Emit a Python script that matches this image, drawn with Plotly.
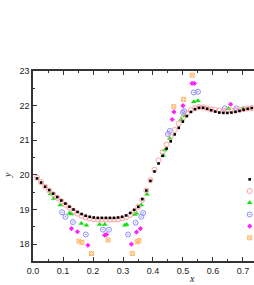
import plotly.graph_objects as go

# ---- data ----
grid_x = [0.0135, 0.0270, 0.0405, 0.0540, 0.0675, 0.0810, 0.0945, 0.1080, 0.1215, 0.1350,
          0.1485, 0.1620, 0.1755, 0.1890, 0.2025, 0.2160, 0.2295, 0.2430, 0.2565, 0.2700,
          0.2835, 0.2970, 0.3105, 0.3240, 0.3375, 0.3510, 0.3645, 0.3780, 0.3915, 0.4050,
          0.4185, 0.4320, 0.4455, 0.4590, 0.4725, 0.4860, 0.4995, 0.5130, 0.5265, 0.5400,
          0.5535, 0.5670, 0.5805, 0.5940, 0.6075, 0.6210, 0.6345, 0.6480, 0.6615, 0.6750,
          0.6885, 0.7020, 0.7155, 0.7290]

black_y = [19.90, 19.78, 19.66, 19.56, 19.46, 19.36, 19.26, 19.17, 19.08, 19.00,
           18.93, 18.87, 18.82, 18.79, 18.77, 18.76, 18.76, 18.76, 18.76, 18.76,
           18.77, 18.79, 18.83, 18.90, 18.99, 19.08, 19.30, 19.55, 19.83, 20.10,
           20.33, 20.55, 20.76, 20.97, 21.17, 21.36, 21.54, 21.70, 21.82, 21.90,
           21.94, 21.94, 21.91, 21.87, 21.83, 21.80, 21.79, 21.79, 21.80, 21.82,
           21.85, 21.88, 21.91, 21.93]

pink_y = [19.92, 19.79, 19.66, 19.55, 19.44, 19.34, 19.24, 19.14, 19.05, 18.96,
          18.88, 18.82, 18.77, 18.74, 18.72, 18.71, 18.71, 18.71, 18.71, 18.71,
          18.72, 18.74, 18.78, 18.85, 18.95, 19.08, 19.28, 19.55, 19.85, 20.15,
          20.42, 20.66, 20.88, 21.10, 21.30, 21.48, 21.64, 21.77, 21.87, 21.93,
          21.96, 21.95, 21.92, 21.89, 21.87, 21.86, 21.85, 21.85, 21.86, 21.87,
          21.88, 21.90, 21.92, 21.93]

green_x = [0.058, 0.069, 0.091, 0.122, 0.128, 0.161, 0.178, 0.222, 0.239, 0.306,
           0.312, 0.339, 0.345, 0.361, 0.380, 0.434, 0.439, 0.456, 0.494, 0.506,
           0.536, 0.550, 0.652, 0.700]
green_y = [19.45, 19.32, 19.13, 18.89, 18.87, 18.60, 18.55, 18.57, 18.57, 18.55,
           18.57, 18.86, 18.89, 19.13, 19.44, 20.57, 20.72, 21.05, 21.60, 21.70,
           22.11, 22.14, 21.92, 21.92]

blue_x = [0.097, 0.108, 0.133, 0.176, 0.233, 0.253, 0.317, 0.342, 0.361, 0.367,
          0.450, 0.456, 0.500, 0.504, 0.536, 0.550, 0.639, 0.678]
blue_y = [18.92, 18.79, 18.64, 18.28, 18.42, 18.42, 18.28, 18.62, 18.79, 18.90,
          21.18, 21.27, 21.80, 21.84, 22.38, 22.40, 21.92, 21.92]

magenta_x = [0.128, 0.148, 0.183, 0.239, 0.245, 0.328, 0.345, 0.358, 0.464, 0.470,
             0.500, 0.530, 0.538, 0.659]
magenta_y = [18.45, 18.36, 17.97, 18.26, 18.28, 18.00, 18.35, 18.45, 21.60, 21.82,
             22.00, 22.64, 22.64, 22.04]

orange_x = [0.153, 0.163, 0.195, 0.250, 0.331, 0.347, 0.353, 0.469, 0.502, 0.531]
orange_y = [18.09, 18.05, 17.73, 18.12, 17.73, 18.07, 18.10, 21.97, 22.18, 22.88]

x_ticks = [0.0, 0.1, 0.2, 0.3, 0.4, 0.5, 0.6, 0.7]
x_tick_labels = ["0.0", "0.1", "0.2", "0.3", "0.4", "0.5", "0.6", "0.7"]
y_ticks = [18, 19, 20, 21, 22, 23]
y_tick_labels = ["18", "19", "20", "21", "22", "23"]

series_names = ["s1", "s2", "s3", "s4", "s5", "s6"]
key_index = [0, 1, 2, 3, 4, 5]

# ---- styles ----
styles = [
    dict(symbol="square", size=2.6, color="#000000"),
    dict(symbol="circle-open", size=5, color="#FFA0A0", line=dict(width=1, color="#FFA0A0")),
    dict(symbol="triangle-up", size=5, color="#11E011"),
    dict(symbol="circle-open-dot", size=5, color="#8C8CFF", line=dict(width=1, color="#8C8CFF")),
    dict(symbol="diamond", size=4, color="#FF22FF"),
    dict(symbol="square-x-open", size=4, color="#FFB870", line=dict(width=1, color="#FFB870")),
]

data_sets = [
    (grid_x, black_y),
    (grid_x, pink_y),
    (green_x, green_y),
    (blue_x, blue_y),
    (magenta_x, magenta_y),
    (orange_x, orange_y),
]

fig = go.Figure()
order = [5, 4, 3, 2, 1, 0]
for i in order:
    xs, ys = data_sets[i]
    fig.add_trace(go.Scatter(x=xs, y=ys, mode="markers", name=series_names[i],
                             marker=styles[i], showlegend=False))

# legend keys (legend text lies outside the visible window)
LEGEND_X = 0.7223
for i in key_index:
    fig.add_trace(go.Scatter(x=[LEGEND_X], y=[i], mode="markers", name=series_names[i],
                             marker=styles[i], showlegend=False, yaxis="y2", hoverinfo="skip"))

axis_font = dict(family="Liberation Sans, Arial, sans-serif", size=9, color="#222222")

fig.update_layout(
    width=254, height=285,
    margin=dict(l=33, r=0, t=71, b=24, pad=0),
    paper_bgcolor="white", plot_bgcolor="white",
    showlegend=False,
    xaxis=dict(range=[0, 0.7367], tickvals=x_ticks, ticktext=x_tick_labels,
               showgrid=False, zeroline=False, showline=True, linecolor="#333333",
               linewidth=1.5, mirror="ticks", ticks="inside", ticklen=4, tickwidth=1,
               tickcolor="#333333", tickfont=axis_font, automargin=False,
               minor=dict(ticks="inside", ticklen=2, dtick=0.05, tickcolor="#333333",
                          tickwidth=1, showgrid=False)),
    yaxis=dict(range=[17.515, 23.0], tickvals=y_ticks, ticktext=y_tick_labels,
               showgrid=False, zeroline=False, showline=True, linecolor="#333333",
               linewidth=1.5, mirror=False, ticks="inside", ticklen=4, tickwidth=1,
               tickcolor="#333333", tickfont=axis_font, automargin=False,
               minor=dict(ticks="inside", ticklen=2, dtick=0.5, tickcolor="#333333",
                          tickwidth=1, showgrid=False)),
    yaxis2=dict(overlaying="y", anchor="x", range=[6.98, -9.26], visible=False,
                showgrid=False, zeroline=False, automargin=False),
    annotations=[
        dict(text="<i>x</i>", xref="paper", yref="paper", x=0.72, y=-0.093,
             showarrow=False, xanchor="center", yanchor="middle", borderpad=0,
             font=dict(family="Liberation Serif, DejaVu Serif, serif", size=10, color="#222222")),
        dict(text="<i>y</i>", xref="paper", yref="paper", x=-0.115, y=0.45,
             showarrow=False, textangle=-90, xanchor="center", yanchor="middle", borderpad=0,
             font=dict(family="Liberation Serif, DejaVu Serif, serif", size=10, color="#222222")),
    ],
)

fig.write_html("out.html",
               config={"displayModeBar": False},
               post_script="document.body.style.margin='0px';document.body.style.overflow='hidden';")
